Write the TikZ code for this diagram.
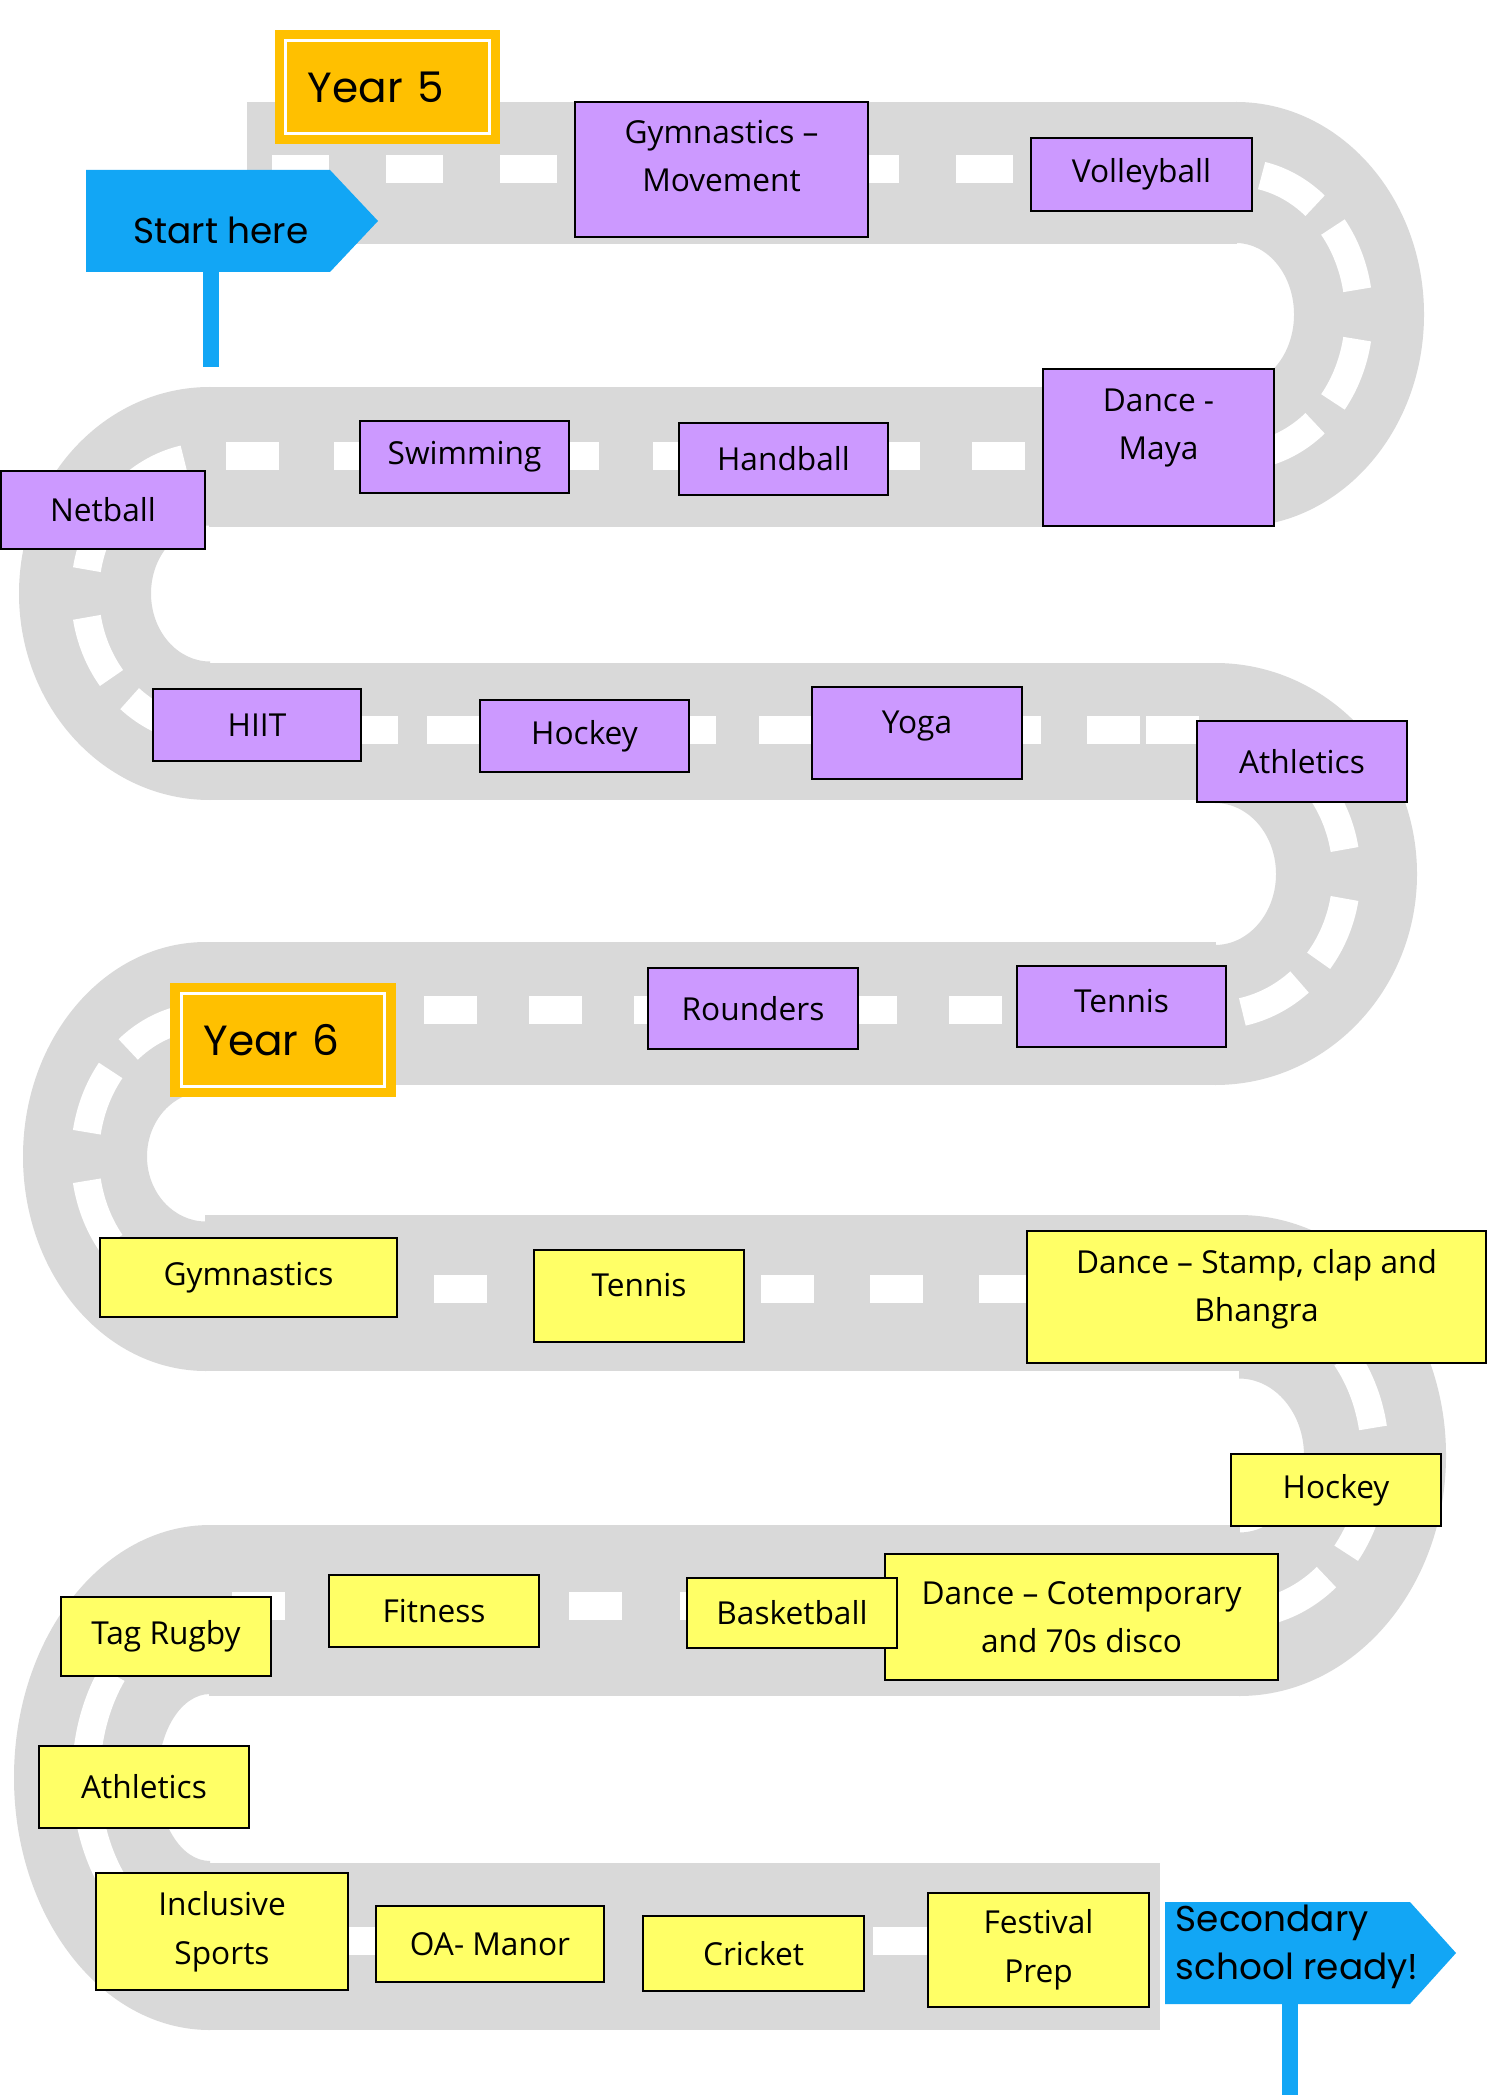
\documentclass[tikz,border=0pt]{standalone}
\usepackage{fontspec}
\setmainfont{Open Sans}
\newfontfamily\signfont{Poppins}
\usepackage{tikz}
\definecolor{RoadGrey}{RGB}{217,217,217}
\definecolor{LilacYearFive}{RGB}{204,153,255}
\definecolor{LemonYearSix}{RGB}{255,255,102}
\definecolor{LabelOrange}{RGB}{255,192,0}
\definecolor{SignBlue}{RGB}{18,166,245}

\begin{document}
\begin{tikzpicture}[x=0.01cm,y=0.01cm,
  road/.style={fill=RoadGrey},
  stripe/.style={fill=white},
  lane/.style={draw=white,line width=8pt},
  act/.style={draw=black,line width=0.6pt,align=center,inner sep=2pt,
    font=\fontsize{9}{13.8}\selectfont},
  five/.style={act,fill=LilacYearFive},
  six/.style={act,fill=LemonYearSix},
  yearlabel/.style={fill=LabelOrange,draw=LabelOrange,double=white,
    double distance=0.85pt,line width=2.7pt,minimum height=0.92cm,
    text width=1.59cm,inner xsep=0.22cm,align=left,
    font=\signfont\fontsize{12}{14}\selectfont},
  signtext/.style={inner sep=0pt,font=\signfont\fontsize{10.2}{13.7}\selectfont},
  post/.style={draw=SignBlue,line width=4.6pt}]
  \fill[white] (0,0) rectangle (1493,-2095);
  \useasboundingbox (0,0) rectangle (1493,-2095);

  % straight parts of the road
  \foreach \xa/\ya/\xb/\yb in {247/102/1237/244, 209/387/1237/527, 209/663/1216/800,
      205/942/1216/1085, 205/1215/1240/1371, 209/1525/1240/1696, 209/1863/1160/2030}
    \fill[road] (\xa,-\ya) rectangle (\xb,-\yb);

  % bends, s=1 turns right, s=-1 turns left
  \foreach \cx/\cy/\rxo/\ryo/\rxi/\ryi/\s in {1236/-314.5/188/212.5/58/71.5/1,
      210/-593.5/191/206.5/59/68/-1, 1215/-874/202/211/61/71/1,
      206/-1156.5/183/214.5/59/65/-1, 1239/-1455.5/207/240.5/65/77/1,
      210/-1777.5/196/252.5/52/83.5/-1}{
    \fill[road] (\cx,\cy+\ryo) arc[start angle=90,end angle=90-180*(\s),x radius=\rxo,y radius=\ryo]
      -- (\cx,\cy-\ryi) arc[start angle=90-180*(\s),end angle=90,x radius=\rxi,y radius=\ryi] -- cycle;
    \pgfmathsetmacro{\rxm}{(\rxo+\rxi)/2}
    \pgfmathsetmacro{\rym}{(\ryo+\ryi)/2}
    \foreach \a/\b in {78/50,38/10,-10/-38,-50/-78}{
      \pgfmathsetmacro{\ta}{90-(\s)*(90-\a)}
      \pgfmathsetmacro{\tb}{90-(\s)*(90-\b)}
      \draw[lane] ({\cx+\rxm*cos(\ta)},{\cy+\rym*sin(\ta)})
        arc[start angle=\ta,end angle=\tb,x radius=\rxm,y radius=\rym];
    }
  }

  % white stripes
  \foreach \x in {272,386,500,614,728,842,956,1070} \fill[stripe] (\x,-155) rectangle ++(57,-28);
  \foreach \x in {226,334,440,546,653,760,867,972} \fill[stripe] (\x,-442) rectangle ++(53,-28);
  \foreach \x in {345,427,663,759,988,1087,1146} \fill[stripe] (\x,-716) rectangle ++(53,-28);
  \foreach \x in {424,529,634,739,844,949} \fill[stripe] (\x,-996) rectangle ++(53,-28);
  \foreach \x in {325,434,543,652,761,870,979} \fill[stripe] (\x,-1275) rectangle ++(53,-28);
  \foreach \x in {232,569,680} \fill[stripe] (\x,-1592) rectangle ++(53,-28);
  \foreach \x in {320,873} \fill[stripe] (\x,-1927) rectangle ++(55,-28);

  % signs
  \fill[SignBlue] (86,-170) -- (330,-170) -- (378,-221) -- (330,-272) -- (86,-272) -- cycle;
  \coordinate (startfoot) at (211,-272);
  \coordinate (startground) at (211,-367);
  \draw[post] (startfoot) -- (startground);
  \node[signtext] (start) at (221,-230) {Start here};
  \fill[SignBlue] (1165,-1902) -- (1410,-1902) -- (1456,-1953) -- (1410,-2004) -- (1165,-2004) -- cycle;
  \coordinate (endfoot) at (1290,-2004);
  \coordinate (endground) at (1290,-2095);
  \draw[post] (endfoot) -- (endground);
  \node[signtext,align=left,anchor=west] (secready) at (1175,-1947) {Secondary\\school ready!};

  \node[yearlabel] (yfive) at (387.5,-87) {Year 5};
  \node[yearlabel] (ysix) at (283,-1040) {Year 6};

  % Year 5
  \node[five,minimum width=2.93cm,minimum height=1.35cm,text depth=7.7pt] (gymmove) at (721.5,-169.5) {Gymnastics –\\Movement};
  \node[five,minimum width=2.21cm,minimum height=0.73cm] (volley) at (1141.5,-174.5) {Volleyball};
  \node[five,minimum width=2.31cm,minimum height=1.57cm,text depth=13.3pt] (dmaya) at (1158.5,-447.5) {Dance -\\Maya};
  \node[five,minimum width=2.09cm,minimum height=0.72cm] (hand) at (783.5,-459) {Handball};
  \node[five,minimum width=2.09cm,minimum height=0.72cm] (swim) at (464.5,-457) {Swimming};
  \node[five,minimum width=2.04cm,minimum height=0.78cm] (netball) at (103,-510) {Netball};
  \node[five,minimum width=2.08cm,minimum height=0.72cm] (hiit) at (257,-725) {HIIT};
  \node[five,minimum width=2.09cm,minimum height=0.72cm] (hockeyfive) at (584.5,-736) {Hockey};
  \node[five,minimum width=2.10cm,minimum height=0.92cm,text depth=6.2pt] (yoga) at (917,-733) {Yoga};
  \node[five,minimum width=2.10cm,minimum height=0.81cm] (athlfive) at (1302,-761.5) {Athletics};
  \node[five,minimum width=2.10cm,minimum height=0.81cm] (rounders) at (753,-1008.5) {Rounders};
  \node[five,minimum width=2.09cm,minimum height=0.81cm,text depth=3.4pt] (tennisfive) at (1121.5,-1006.5) {Tennis};

  % Year 6
  \node[six,minimum width=2.97cm,minimum height=0.79cm] (gymsix) at (248.5,-1277.5) {Gymnastics};
  \node[six,minimum width=2.10cm,minimum height=0.92cm,text depth=6.2pt] (tennissix) at (639,-1296) {Tennis};
  \node[six,minimum width=4.59cm,minimum height=1.32cm,text depth=6.5pt] (dstamp) at (1256.5,-1297) {Dance – Stamp, clap and\\Bhangra};
  \node[six,minimum width=2.10cm,minimum height=0.72cm] (hockeysix) at (1336,-1490) {Hockey};
  \node[six,minimum width=3.93cm,minimum height=1.26cm] (dcot) at (1081.5,-1617) {Dance – Cotemporary\\and 70s disco};
  \node[six,minimum width=2.10cm,minimum height=0.70cm] (basket) at (792,-1613) {Basketball};
  \node[six,minimum width=2.10cm,minimum height=0.72cm] (fitness) at (434,-1611) {Fitness};
  \node[six,minimum width=2.10cm,minimum height=0.79cm] (tagrugby) at (166,-1636.5) {Tag Rugby};
  \node[six,minimum width=2.10cm,minimum height=0.82cm] (athlsix) at (144,-1787) {Athletics};
  \node[six,minimum width=2.52cm,minimum height=1.17cm] (inclusive) at (222,-1931.5) {Inclusive\\Sports};
  \node[six,minimum width=2.28cm,minimum height=0.76cm] (oamanor) at (490,-1944) {OA- Manor};
  \node[six,minimum width=2.21cm,minimum height=0.75cm] (cricket) at (753.5,-1953.5) {Cricket};
  \node[six,minimum width=2.21cm,minimum height=1.14cm] (festival) at (1038.5,-1950) {Festival\\Prep};
\end{tikzpicture}
\end{document}
